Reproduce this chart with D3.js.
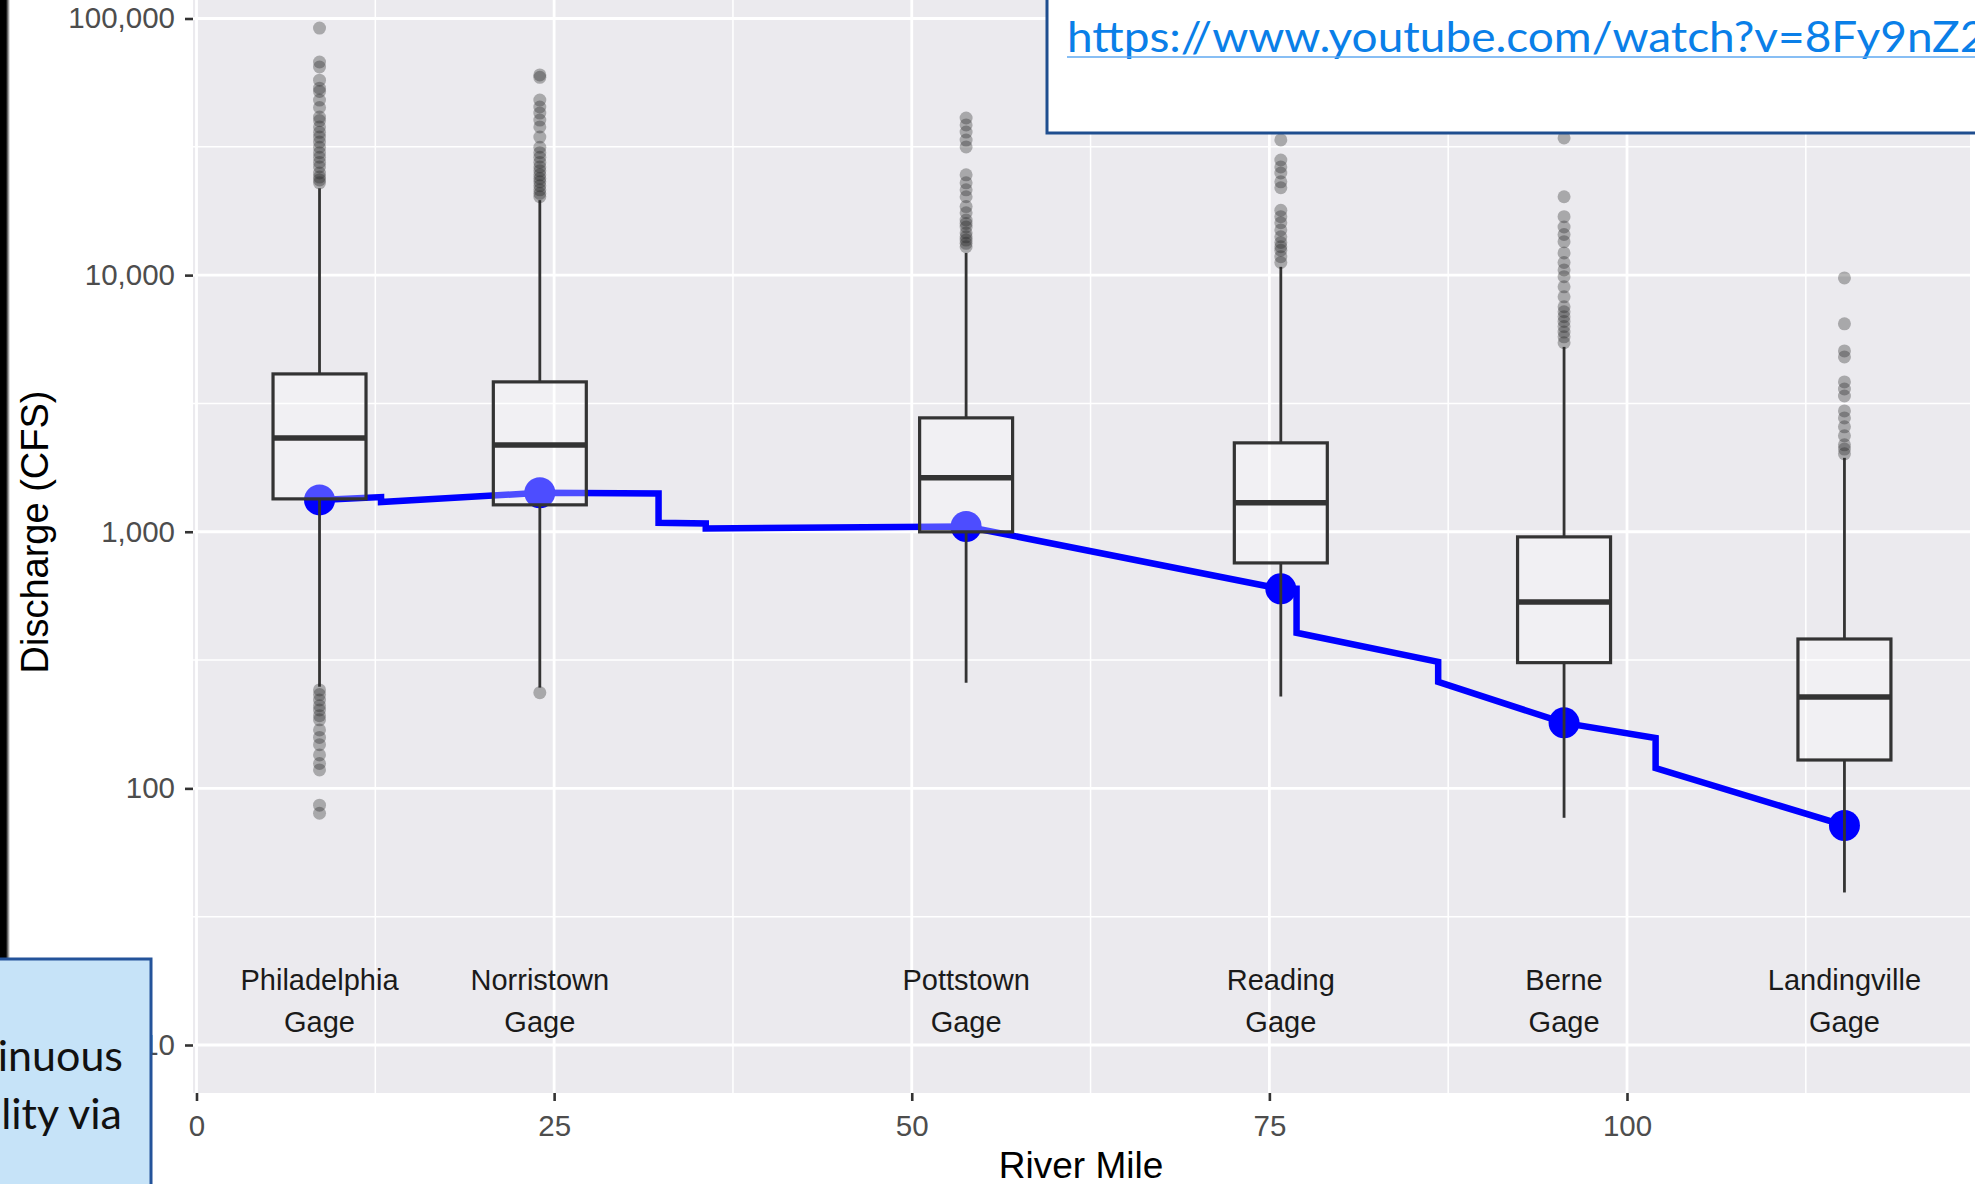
<!DOCTYPE html>
<html>
<head>
<meta charset="utf-8">
<script src="https://cdn.jsdelivr.net/npm/d3@7"></script>
<style>
  html, body { margin: 0; padding: 0; background: #fff; overflow: hidden; }
  svg { display: block; }
</style>
</head>
<body>
<div id="chart"></div>
<script>
// gages along the river
const gageNames = ['Philadelphia', 'Norristown', 'Pottstown', 'Reading', 'Berne', 'Landingville'];
const gageMiles = [8.6, 24.0, 53.8, 75.8, 95.6, 115.2];

// box stats (CFS)
const whiskerLo = [249, 247, 258, 228, 76.8, 39.3];
const q1 = [1343, 1273, 999, 756, 309, 129];
const median = [2321, 2180, 1622, 1296, 533, 227];
const q3 = [4121, 3837, 2778, 2220, 955, 382];
const whiskerHi = [21800, 19600, 12200, 10770, 5252, 1941];

// outliers per gage
const outPhiladelphia = [91800, 67700, 64700, 57500, 53500, 52000, 48100, 45000, 41300, 40000, 37800, 36000, 34500,
  33000, 31500, 30000, 28800, 27500, 26400, 25000, 24100, 23500, 22900,
  242, 232, 221, 210, 202, 192, 185, 169, 158, 148, 135, 125, 118, 86, 80];
const outNorristown = [60300, 59000, 48100, 45200, 42800, 40200, 37800, 34500, 31500, 30000, 28800, 27500, 26400,
  25500, 24600, 23800, 23100, 22300, 21500, 20800, 20200, 236];
const outPottstown = [40960, 38500, 36100, 33600, 31600, 24600, 22900, 21500, 20200, 18500, 17500, 16400,
  15900, 15400, 14600, 14100, 13700, 13300, 12900];
const outReading = [33630, 28100, 26400, 25000, 23100, 21900, 17900, 16900, 16000, 15000, 14100, 13400,
  12900, 12500, 11800, 11200];
const outBerne = [34240, 20200, 16900, 15400, 14400, 13500, 12200, 11200, 10480, 9860, 9000, 8230, 7530,
  7200, 6890, 6600, 6300, 6000, 5750, 5450];
const outLandingville = [9750, 6460, 5067, 4800, 3834, 3600, 3380, 2958, 2778, 2563, 2364, 2181, 2100, 2012];
const outliers = [outPhiladelphia, outNorristown, outPottstown, outReading, outBerne, outLandingville];

// modelled discharge along the river (blue line) and the gage points on it
const lineMiles = [8.6, 12.9, 12.9, 24.0, 32.3, 32.3, 35.6, 35.6, 53.8, 75.8, 76.9, 76.9, 86.8, 86.8, 95.6, 102.0, 102.0, 115.2];
const lineFlows = [1331, 1365, 1305, 1418, 1410, 1083, 1078, 1030, 1048, 599, 599, 404, 311, 260, 180, 157, 120, 71.7];
const dotFlows = [1331, 1418, 1048, 599, 180, 71.7];

// axes
const xTicks = [0, 25, 50, 75, 100];
const xMinor = [12.5, 37.5, 62.5, 87.5, 112.5];
const yTicks = [10, 100, 1000, 10000, 100000];
const yMinor = [31.62, 316.2, 3162, 31623];

const W = 1975, H = 1184;
const panel = { left: 193, right: 1970, top: -30, bottom: 1093 };
const boxWidthMiles = 6.5;

const svg = d3.select('#chart').append('svg')
  .attr('width', W).attr('height', H);

let x = d3.scaleLinear().domain([0, 100]).range([196.5, 1627]);
let y = d3.scaleLog().domain([10, 100000]).range([1045, 18.5]);

svg.append('rect')
  .attr('x', panel.left).attr('y', panel.top)
  .attr('width', panel.right - panel.left)
  .attr('height', panel.bottom - panel.top)
  .attr('fill', '#ebeaee');

// grid
let grid = svg.append('g');
grid.selectAll('.hmin').data(yMinor).enter().append('line')
  .attr('x1', panel.left).attr('x2', panel.right)
  .attr('y1', d => y(d)).attr('y2', d => y(d))
  .attr('stroke', '#fff').attr('stroke-width', 1.5);
grid.selectAll('.vmin').data(xMinor).enter().append('line')
  .attr('y1', panel.top).attr('y2', panel.bottom)
  .attr('x1', d => x(d)).attr('x2', d => x(d))
  .attr('stroke', '#fff').attr('stroke-width', 1.5);
grid.selectAll('.hmaj').data(yTicks).enter().append('line')
  .attr('x1', panel.left).attr('x2', panel.right)
  .attr('y1', d => y(d)).attr('y2', d => y(d))
  .attr('stroke', '#fff').attr('stroke-width', 2.8);
grid.selectAll('.vmaj').data(xTicks).enter().append('line')
  .attr('y1', panel.top).attr('y2', panel.bottom)
  .attr('x1', d => x(d)).attr('x2', d => x(d))
  .attr('stroke', '#fff').attr('stroke-width', 2.8);

// blue line + gage dots (under the boxes)
let linePts = lineMiles.map((m, i) => [m, lineFlows[i]]);
svg.append('path')
  .attr('d', d3.line().x(d => x(d[0])).y(d => y(d[1]))(linePts))
  .attr('fill', 'none')
  .attr('stroke', '#0000ff')
  .attr('stroke-width', 6.5)
  .attr('stroke-linejoin', 'miter')
  .attr('stroke-miterlimit', 2);

svg.selectAll('.dot').data(gageMiles).enter().append('circle')
  .attr('cx', d => x(d))
  .attr('cy', (d, i) => y(dotFlows[i]))
  .attr('r', 15.5)
  .attr('fill', '#0000ff');

// boxplots
gageMiles.forEach(function(m, i) {
  let g = svg.append('g');
  let cx = x(m);
  let x0 = x(m - boxWidthMiles / 2), x1 = x(m + boxWidthMiles / 2);
  g.append('line').attr('x1', cx).attr('x2', cx)
    .attr('y1', y(q3[i])).attr('y2', y(whiskerHi[i]))
    .attr('stroke', '#333').attr('stroke-width', 2.8);
  g.append('line').attr('x1', cx).attr('x2', cx)
    .attr('y1', y(q1[i])).attr('y2', y(whiskerLo[i]))
    .attr('stroke', '#333').attr('stroke-width', 2.8);
  g.append('rect')
    .attr('x', x0).attr('y', y(q3[i]))
    .attr('width', x1 - x0).attr('height', y(q1[i]) - y(q3[i]))
    .attr('fill', '#fff').attr('fill-opacity', 0.3)
    .attr('stroke', '#333').attr('stroke-width', 3.2);
  g.append('line').attr('x1', x0).attr('x2', x1)
    .attr('y1', y(median[i])).attr('y2', y(median[i]))
    .attr('stroke', '#333').attr('stroke-width', 5.5);
  g.selectAll('circle').data(outliers[i]).enter().append('circle')
    .attr('cx', cx).attr('cy', d => y(d)).attr('r', 6.5)
    .attr('fill', '#222').attr('fill-opacity', 0.33);
});

// gage labels
let labels = svg.append('g')
  .attr('font-family', 'Liberation Sans, Arial, sans-serif')
  .attr('font-size', 29).attr('fill', '#1a1a1a')
  .attr('text-anchor', 'middle');
gageMiles.forEach(function(m, i) {
  labels.append('text').attr('x', x(m)).attr('y', 990).text(gageNames[i]);
  labels.append('text').attr('x', x(m)).attr('y', 1032).text('Gage');
});

// axes
let yAxis = svg.append('g')
  .attr('transform', 'translate(' + panel.left + ',0)')
  .call(d3.axisLeft(y).tickValues(yTicks).tickFormat(d3.format(',')).tickSize(8).tickPadding(10));
let xAxis = svg.append('g')
  .attr('transform', 'translate(0,' + panel.bottom + ')')
  .call(d3.axisBottom(x).tickValues(xTicks).tickSize(8).tickPadding(14));
[yAxis, xAxis].forEach(function(ax) {
  ax.select('.domain').remove();
  ax.selectAll('line').attr('stroke', '#333').attr('stroke-width', 2.6);
  ax.selectAll('text')
    .attr('font-family', 'Liberation Sans, Arial, sans-serif')
    .attr('font-size', 29.5).attr('fill', '#4d4d4d');
});

svg.append('text')
  .attr('transform', 'translate(48,532) rotate(-90)')
  .attr('text-anchor', 'middle')
  .attr('font-family', 'Liberation Sans, Arial, sans-serif')
  .attr('font-size', 38).attr('fill', '#000')
  .text('Discharge (CFS)');
svg.append('text')
  .attr('x', 1081).attr('y', 1178)
  .attr('text-anchor', 'middle')
  .attr('font-family', 'Liberation Sans, Arial, sans-serif')
  .attr('font-size', 37).attr('fill', '#000')
  .text('River Mile');

// slide overlays
let defs = svg.append('defs');
let grad = defs.append('linearGradient').attr('id', 'edge');
grad.append('stop').attr('offset', '0%').attr('stop-color', '#000');
grad.append('stop').attr('offset', '100%').attr('stop-color', '#fff');
svg.append('rect').attr('x', 0).attr('y', 0).attr('width', 6).attr('height', 960).attr('fill', '#000');
svg.append('rect').attr('x', 6).attr('y', 0).attr('width', 4).attr('height', 960).attr('fill', 'url(#edge)');

svg.append('rect')
  .attr('x', 1047).attr('y', -10).attr('width', 940).attr('height', 143)
  .attr('fill', '#fff').attr('stroke', '#1f4e8f').attr('stroke-width', 3);
let url = svg.append('text')
  .attr('x', 1067).attr('y', 52)
  .attr('font-family', 'Lato, Open Sans, sans-serif')
  .attr('font-size', 43).attr('fill', '#0a7fe8')
  .text('https://www.youtube.com/watch?v=8Fy9nZ2');
let subW = url.node().getSubStringLength(0, 38);
let sx = 893 / subW;
url.attr('transform', 'translate(1067,0) scale(' + sx + ',1) translate(-1067,0)');
svg.append('line')
  .attr('x1', 1067).attr('x2', 1975).attr('y1', 57).attr('y2', 57)
  .attr('stroke', '#5fa8f0').attr('stroke-width', 1.5);

svg.append('rect')
  .attr('x', -5).attr('y', 959).attr('width', 156).attr('height', 240)
  .attr('fill', '#c6e3f8').attr('stroke', '#24539a').attr('stroke-width', 3);
let note = svg.append('g')
  .attr('font-family', 'Lato, Open Sans, sans-serif')
  .attr('font-size', 43).attr('fill', '#111')
  .attr('text-anchor', 'end');
note.append('text').attr('x', 123).attr('y', 1071).text('inuous');
note.append('text').attr('x', 122).attr('y', 1129).text('lity via');
</script>
</body>
</html>
